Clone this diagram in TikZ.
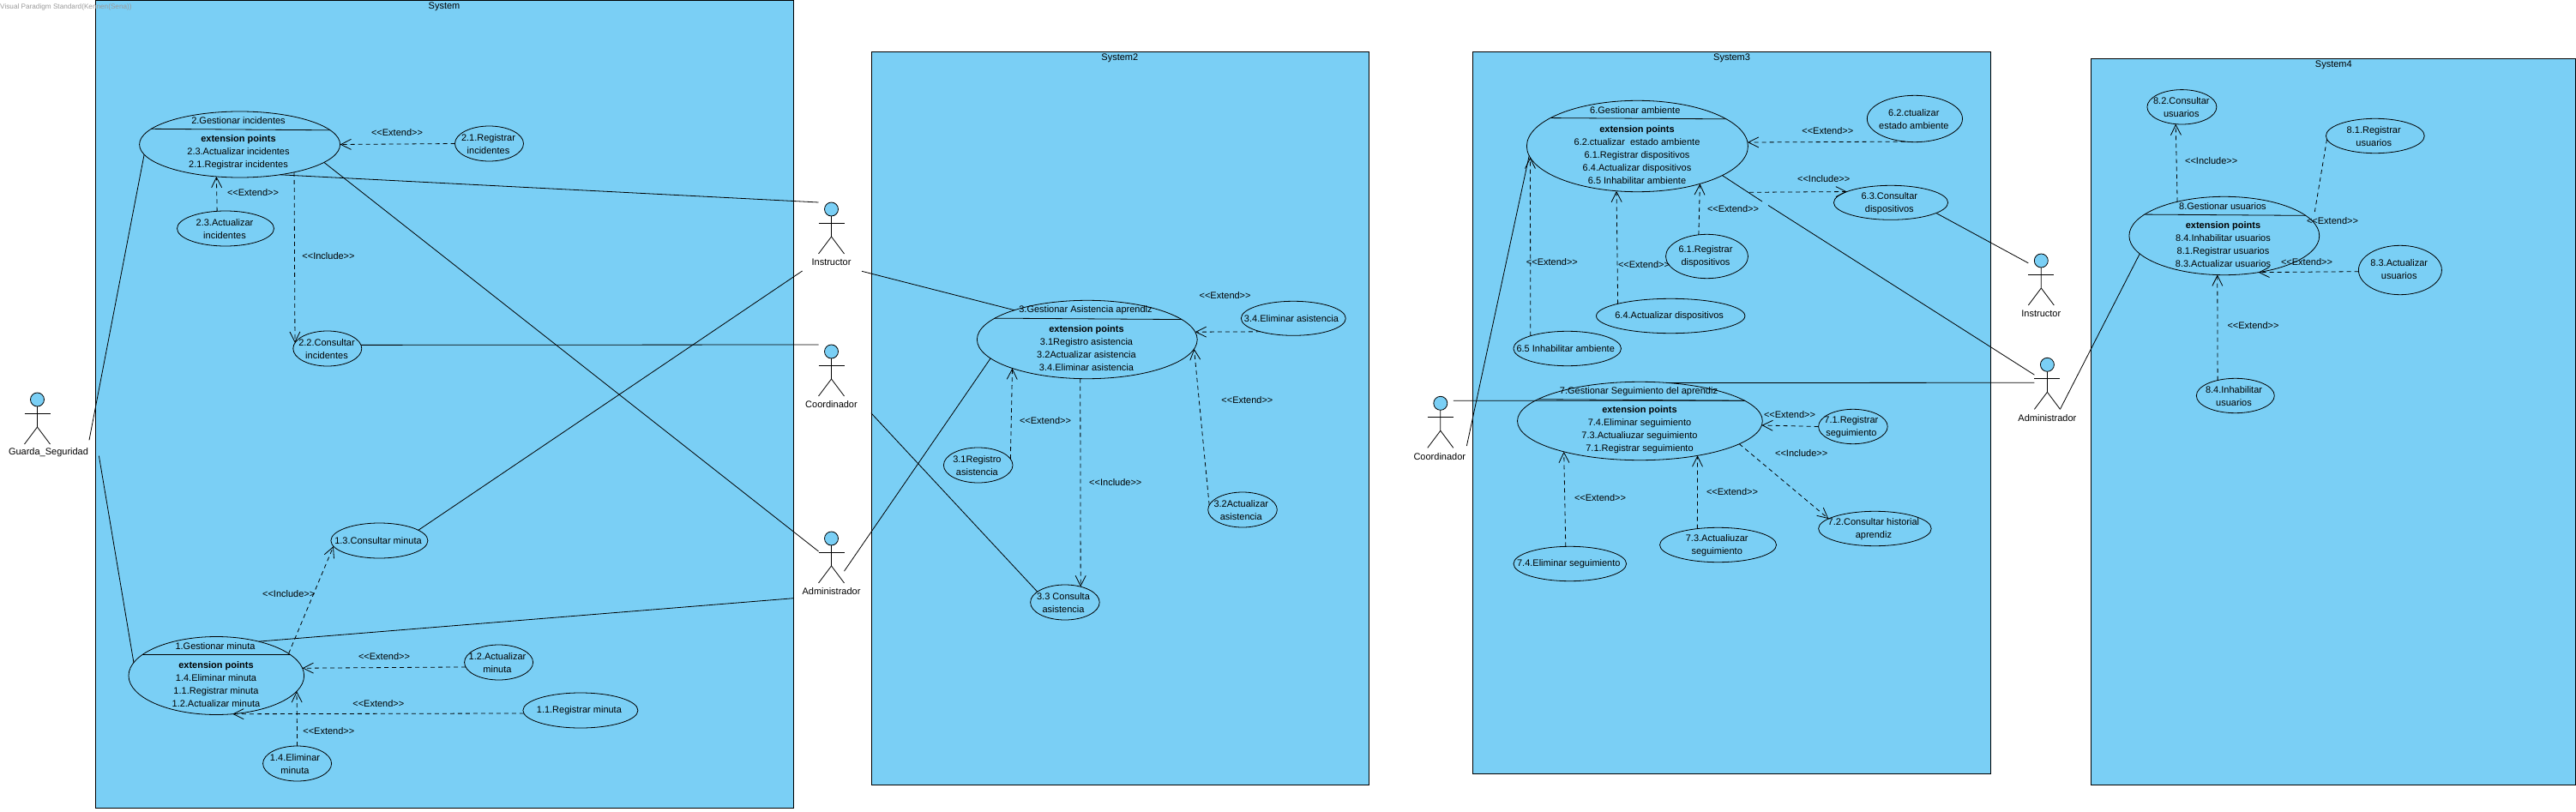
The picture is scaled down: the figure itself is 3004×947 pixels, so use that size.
\documentclass[tikz,border=0pt]{standalone}
\usepackage{fontspec}
\setmainfont{Liberation Sans}
\usetikzlibrary{arrows.meta,shapes.geometric}
\definecolor{sysblue}{RGB}{122,207,245}
\tikzset{
	sysbox/.style={draw, line width=0.8pt, fill=sysblue},
	uc/.style 2 args={ellipse, draw, line width=0.8pt, fill=sysblue, inner sep=0pt, outer sep=0pt, minimum width=#1pt, minimum height=#2pt},
	actorbox/.style={rectangle, inner sep=0pt, outer sep=0pt, minimum width=30pt, minimum height=60pt},
	txt/.style={inner sep=0pt, align=center, font=\fontsize{11}{15}\selectfont},
	assoc/.style={line width=0.8pt},
	dep/.style={line width=0.8pt, dash pattern=on 5pt off 4pt},
	deparrow/.style={dep, -{Straight Barb[length=12pt,width=12pt]}}
}
\def\lblext{<{}<Extend>{}>}
\def\lblinc{<{}<Include>{}>}
\def\actor[#1](#2)(#3,#4)#5{
	\node[actorbox] (#2) at ({#3},{#4+30}) {};
	\begin{scope}[shift={(#3,#4)}, line width=0.8pt]
		\draw[fill=sysblue] (0,8) circle (8pt);
		\draw (-15,24) -- (15,24);
		\draw (0,16) -- (0,40) -- (-15,60);
		\draw (0,40) -- (15,60);
	\end{scope}
	\node[txt] (#2label) at ({#3+#1},{#4+70}) {#5};
}

\begin{document}
\begin{tikzpicture}[x=1pt, y=-1pt]
			%%%%% START %%%%%
			\useasboundingbox (0,0) rectangle (3004,947);
			
			\draw[sysbox] (111.6,0.5) rectangle (925,942);
			\draw[sysbox] (1016.6,60.3) rectangle (1595.9,915.3);
			\draw[sysbox] (1717.6,60.3) rectangle (2321.6,902.3);
			\draw[sysbox] (2438.8,68.3) rectangle (3003.5,915.7);
			
			\node[txt, text=black!40, font=\fontsize{8.2}{10}\selectfont, anchor=west] (mark) at (0,8) {Visual Paradigm Standard(Kennen(Sena))};
			\node[txt] (sys1) at (518,8) {System};
			\node[txt] (sys2) at (1305.8,68.3) {System2};
			\node[txt] (sys3) at (2019.6,68.3) {System3};
			\node[txt] (sys4) at (2721.3,76.3) {System4};
			
			% use cases
			\node[uc={234}{77}] (uc2) at (279.6,168.5) {};
			\node[uc={80}{41}] (uc21) at (570.5,167.5) {};
			\node[uc={113}{41}] (uc23) at (263,266.5) {};
			\node[uc={80}{41}] (uc22) at (381.8,406.5) {};
			\node[uc={113}{41}] (uc13) at (442.4,630.5) {};
			\node[uc={204.6}{91}] (uc1) at (252.3,788) {};
			\node[uc={80}{41}] (uc12) at (581.6,772.5) {};
			\node[uc={134}{41}] (uc11) at (676.9,828.5) {};
			\node[uc={80}{41}] (uc14) at (346.6,890.5) {};
			
			\node[uc={256.8}{91.4}] (uc3) at (1267.8,396) {};
			\node[uc={122}{40}] (uc34) at (1508.3,371.3) {};
			\node[uc={80.6}{41}] (uc31) at (1140.7,542.5) {};
			\node[uc={80.6}{41}] (uc32) at (1449,594.5) {};
			\node[uc={80.6}{41}] (uc33) at (1241.9,702.5) {};
			
			\node[uc={258}{106.4}] (uc6) at (1909.4,170.5) {};
			\node[uc={111.2}{54.4}] (uc62) at (2232.9,138.5) {};
			\node[uc={133.2}{40}] (uc63) at (2205,236.3) {};
			\node[uc={96}{51.4}] (uc61) at (1990.5,299) {};
			\node[uc={173.4}{40.4}] (uc64) at (1948.2,368.5) {};
			\node[uc={125.6}{40.4}] (uc65) at (1827.7,406.5) {};
			
			\node[uc={285.8}{91.4}] (uc7) at (1912.4,491) {};
			\node[uc={80.6}{40.4}] (uc71) at (2160.9,497.5) {};
			\node[uc={131.6}{40.4}] (uc72) at (2186.4,616.5) {};
			\node[uc={136}{40.4}] (uc73) at (2003.5,635.5) {};
			\node[uc={131.6}{40.4}] (uc74) at (1830.8,657.5) {};
			
			\node[uc={221.8}{91.4}] (uc8) at (2593.8,275) {};
			\node[uc={81}{40.4}] (uc82) at (2544.4,124.8) {};
			\node[uc={114.8}{40.4}] (uc81) at (2769.8,158.5) {};
			\node[uc={97}{57.4}] (uc83) at (2798.9,315) {};
			\node[uc={91}{40.4}] (uc84) at (2606.8,461.5) {};
			
			% compartments
			\draw[assoc] (uc2.170.45) -- (uc2.9.55);
			\draw[assoc] (uc1.164) -- (uc1.16);
			\draw[assoc] (uc3.167.1) -- (uc3.12.9);
			\draw[assoc] (uc6.162.9) -- (uc6.17.1);
			\draw[assoc] (uc7.168.6) -- (uc7.11.4);
			\draw[assoc] (uc8.165.5) -- (uc8.14.5);
			
			% actors
			\actor[13](guarda)(43.5,458){Guarda\_Seguridad}
			\actor[0](instructor)(969.5,236){Instructor}
			\actor[0](coordinador)(969.5,402){Coordinador}
			\actor[0](administrador)(969.5,620){Administrador}
			\actor[0](instructorB)(2380.3,296){Instructor}
			\actor[0](administradorB)(2387.4,417.3){Administrador}
			\actor[-1](coordinadorB)(1679.8,462.3){Coordinador}
			
			\coordinate (guardaUp) at (104,513.3);
			\coordinate (guardaDown) at (115.4,531.7);
			\coordinate (instructorLeft) at (935.6,316);
			\coordinate (instructorRight) at (1005,316.3);
			\coordinate (coordinadorRight) at (1015.8,481.7);
			\coordinate (adminEnd) at (925.5,697.7);
			\coordinate (coordinadorBRight) at (1710.4,520);
			\coordinate (gapA) at (2055,235);
			\coordinate (gapB) at (2062,239.5);
			\coordinate (incStart) at (2040,224.3);
			\coordinate (extEnd) at (2699.3,247);
			
			% associations
			\draw[assoc] (guardaUp) -- (uc2.186.7);
			\draw[assoc] (guardaDown) -- (uc1.171);
			\draw[assoc] (uc2.-37) -- (instructor.north west);
			\draw[assoc] (uc2.-12.9) -- (administrador.155);
			\draw[assoc] (uc22.6) -- (coordinador.north west);
			\draw[assoc] (instructorLeft) -- (uc13.15);
			\draw[assoc] (uc1.39.9) -- (adminEnd);
			\draw[assoc] (instructorRight) -- (uc3.158.1);
			\draw[assoc] (administrador.-47) -- (uc3.191.3);
			\draw[assoc] (coordinadorRight) -- (uc33.159.4);
			\draw[assoc] (coordinadorBRight) -- (uc6.185.9);
			\draw[assoc] (uc6.-19.6) -- (gapA);
			\draw[assoc] (gapB) -- (administradorB.146.3);
			\draw[assoc] (uc63.-13.4) -- (instructorB.128.3);
			\draw[assoc] (uc7.53.1) -- (administradorB.176.2);
			\draw[assoc] (coordinadorB.59.6) -- (uc7.11.6);
			\draw[assoc] (administradorB.south east) -- (uc8.192.1);
			
			% extend and include
			\draw[deparrow] (uc21.west) -- (uc2.0.5);
			\draw[deparrow] (uc23.116) -- (uc2.234.6);
			\draw[deparrow] (uc2.-27) -- (uc22.170);
			\draw[deparrow] (uc1.17) -- (uc13.187.8);
			\draw[deparrow] (uc12.188) -- (uc1.5.5);
			\draw[deparrow] (uc11.183) -- (uc1.-67.8);
			\draw[deparrow] (uc14.north) -- (uc1.-11.4);
			
			\draw[deparrow] (uc34.202) -- (uc3.4);
			\draw[deparrow] (uc31.11) -- (uc3.201.1);
			\draw[deparrow] (uc32.172) -- (uc3.-5.4);
			\draw[deparrow] (uc3.260) -- (uc33.45.5);
			
			\draw[deparrow] (uc62.247.1) -- (uc6.2.3);
			\draw[deparrow] (incStart) -- (uc63.166.4);
			\draw[deparrow] (uc61.111.6) -- (uc6.-31.7);
			\draw[deparrow] (uc64.167.9) -- (uc6.245.4);
			\draw[deparrow] (uc65.161.1) -- (uc6.186.6);
			
			\draw[deparrow] (uc71.west) -- (uc7.-2.6);
			\draw[deparrow] (uc7.-13) -- (uc72.168.5);
			\draw[deparrow] (uc73.142.8) -- (uc7.-31.9);
			\draw[deparrow] (uc74.104) -- (uc7.202.4);
			
			\draw[deparrow] (uc8.144.7) -- (uc82.250);
			\draw[dep] (uc81.184.9) -- (extEnd);
			\draw[deparrow] (uc83.182.7) -- (uc8.-47.5);
			\draw[deparrow] (uc84.139) -- (uc8.260.8);
			
			% connector labels
			\node[txt] (ext21) at (463,155) {\lblext};
			\node[txt] (ext23) at (295,225) {\lblext};
			\node[txt] (inc22) at (383,299) {\lblinc};
			\node[txt] (inc13) at (336.7,692.3) {\lblinc};
			\node[txt] (ext12) at (448,766) {\lblext};
			\node[txt] (ext11) at (441.3,820.3) {\lblext};
			\node[txt] (ext14) at (383.3,853) {\lblext};
			\node[txt] (ext34) at (1428.6,345) {\lblext};
			\node[txt] (ext31) at (1219,491) {\lblext};
			\node[txt] (ext32) at (1454.4,467) {\lblext};
			\node[txt] (inc33) at (1300.8,562.3) {\lblinc};
			\node[txt] (ext62) at (2131.3,153) {\lblext};
			\node[txt] (inc63) at (2126.7,208.3) {\lblinc};
			\node[txt] (ext61) at (2021,243.3) {\lblext};
			\node[txt] (ext64) at (1917,308.3) {\lblext};
			\node[txt] (ext65) at (1809.9,306) {\lblext};
			\node[txt] (ext71) at (2087,484) {\lblext};
			\node[txt] (inc72) at (2100.7,528.3) {\lblinc};
			\node[txt] (ext73) at (2020,573.3) {\lblext};
			\node[txt] (ext74) at (1866,580.3) {\lblext};
			\node[txt] (inc82) at (2578.7,188) {\lblinc};
			\node[txt] (ext81) at (2720,258) {\lblext};
			\node[txt] (ext83) at (2690,305.3) {\lblext};
			\node[txt] (ext84) at (2627.5,380) {\lblext};
			
			% use case texts
			\node[txt] (tuc2) at (278,141) {2.Gestionar incidentes};
			\node[txt] (tuc2p) at (278,178) {\textbf{extension points}\\2.3.Actualizar incidentes\\2.1.Registrar incidentes};
			\node[txt] (tuc21) at (569.5,168) {2.1.Registrar\\incidentes};
			\node[txt] (tuc23) at (262,266.7) {2.3.Actualizar\\incidentes};
			\node[txt] (tuc22) at (381,407) {2.2.Consultar\\incidentes};
			\node[txt] (tuc13) at (441,630.5) {1.3.Consultar minuta};
			\node[txt] (tuc1) at (251,753.3) {1.Gestionar minuta};
			\node[txt] (tuc1p) at (252,798) {\textbf{extension points}\\1.4.Eliminar minuta\\1.1.Registrar minuta\\1.2.Actualizar minuta};
			\node[txt] (tuc12) at (580,773) {1.2.Actualizar\\minuta};
			\node[txt] (tuc11) at (675.4,828.3) {1.1.Registrar minuta};
			\node[txt] (tuc14) at (344,891) {1.4.Eliminar\\minuta};
			
			\node[txt] (tuc3) at (1266,361.3) {3.Gestionar Asistencia aprendiz};
			\node[txt] (tuc3p) at (1267,405.7) {\textbf{extension points}\\3.1Registro asistencia\\3.2Actualizar asistencia\\3.4.Eliminar asistencia};
			\node[txt] (tuc34) at (1506,371.3) {3.4.Eliminar asistencia};
			\node[txt] (tuc31) at (1139.4,542.8) {3.1Registro\\asistencia};
			\node[txt] (tuc32) at (1447.3,594.8) {3.2Actualizar\\asistencia};
			\node[txt] (tuc33) at (1240,702.8) {3.3 Consulta\\asistencia};
			
			\node[txt] (tuc6) at (1906.8,128.3) {6.Gestionar ambiente};
			\node[txt] (tuc6p) at (1909,180.3) {\textbf{extension points}\\6.2.ctualizar~ estado ambiente\\6.1.Registrar dispositivos\\6.4.Actualizar dispositivos\\6.5 Inhabilitar ambiente};
			\node[txt] (tuc62) at (2231.8,138.8) {6.2.ctualizar\\estado ambiente};
			\node[txt] (tuc63) at (2203.3,236.8) {6.3.Consultar\\dispositivos};
			\node[txt] (tuc61) at (1989,298.8) {6.1.Registrar\\dispositivos};
			\node[txt] (tuc64) at (1946.6,368.3) {6.4.Actualizar dispositivos};
			\node[txt] (tuc65) at (1825.7,406.3) {6.5 Inhabilitar ambiente};
			
			\node[txt] (tuc7) at (1911,456.3) {7.Gestionar Seguimiento del aprendiz};
			\node[txt] (tuc7p) at (1912,500.8) {\textbf{extension points}\\7.4.Eliminar seguimiento\\7.3.Actualiuzar seguimiento\\7.1.Registrar seguimiento};
			\node[txt] (tuc71) at (2158.9,497.8) {7.1.Registrar\\seguimiento};
			\node[txt] (tuc72) at (2184.9,616.8) {7.2.Consultar historial\\aprendiz};
			\node[txt] (tuc73) at (2002.2,635.8) {7.3.Actualiuzar\\seguimiento};
			\node[txt] (tuc74) at (1829.3,657.3) {7.4.Eliminar seguimiento};
			
			\node[txt] (tuc8) at (2591.9,240.3) {8.Gestionar usuarios};
			\node[txt] (tuc8p) at (2592.5,284.8) {\textbf{extension points}\\8.4.Inhabilitar usuarios\\8.1.Registrar usuarios\\8.3.Actualizar usuarios};
			\node[txt] (tuc82) at (2543.8,124.8) {8.2.Consultar\\usuarios};
			\node[txt] (tuc81) at (2768.2,158.8) {8.1.Registrar\\usuarios};
			\node[txt] (tuc83) at (2797.7,314.5) {8.3.Actualizar\\usuarios};
			\node[txt] (tuc84) at (2605,461.8) {8.4.Inhabilitar\\usuarios};
			
			%%%%% END %%%%%
\end{tikzpicture}
\end{document}
